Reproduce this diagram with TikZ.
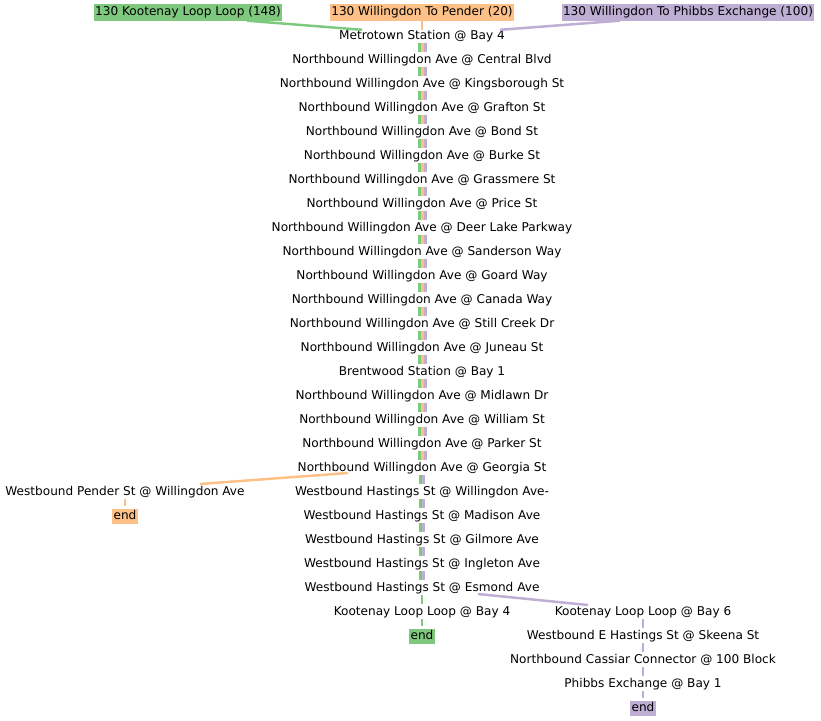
\documentclass[tikz,border=0pt]{standalone}
\usepackage{fontspec}
\setmainfont{DejaVu Sans}
\usetikzlibrary{positioning}
\definecolor{accgreen}{HTML}{7FC97F}
\definecolor{accorange}{HTML}{FDC086}
\definecolor{accpurple}{HTML}{BEAED4}

\begin{document}
\begin{tikzpicture}[x=1pt, y=-1pt, node distance=24pt,
    font=\fontsize{12.1}{14}\selectfont,
    stop/.style={inner sep=0pt, text height=9pt, text depth=3pt},
    route/.style={fill=#1, inner xsep=1.5pt, inner ysep=2.5pt, text height=9pt, text depth=3pt},
    endbox/.style={route=#1, inner ysep=1.5pt},
    feed/.style={draw=#1, line width=2.5pt},
    leg/.style={draw=#1, line width=2.5pt, shorten <=1pt, shorten >=2.3pt}]
    \useasboundingbox (0,0) rectangle (821,720);
    % main trunk
    \node[stop] (metrotown) at (422,36) {Metrotown Station @ Bay 4};
    \node[stop, below of=metrotown] (central) {Northbound Willingdon Ave @ Central Blvd};
    \node[stop, below of=central] (kingsborough) {Northbound Willingdon Ave @ Kingsborough St};
    \node[stop, below of=kingsborough] (grafton) {Northbound Willingdon Ave @ Grafton St};
    \node[stop, below of=grafton] (bond) {Northbound Willingdon Ave @ Bond St};
    \node[stop, below of=bond] (burke) {Northbound Willingdon Ave @ Burke St};
    \node[stop, below of=burke] (grassmere) {Northbound Willingdon Ave @ Grassmere St};
    \node[stop, below of=grassmere] (price) {Northbound Willingdon Ave @ Price St};
    \node[stop, below of=price] (deerlake) {Northbound Willingdon Ave @ Deer Lake Parkway};
    \node[stop, below of=deerlake] (sanderson) {Northbound Willingdon Ave @ Sanderson Way};
    \node[stop, below of=sanderson] (goard) {Northbound Willingdon Ave @ Goard Way};
    \node[stop, below of=goard] (canada) {Northbound Willingdon Ave @ Canada Way};
    \node[stop, below of=canada] (stillcreek) {Northbound Willingdon Ave @ Still Creek Dr};
    \node[stop, below of=stillcreek] (juneau) {Northbound Willingdon Ave @ Juneau St};
    \node[stop, below of=juneau] (brentwood) {Brentwood Station @ Bay 1};
    \node[stop, below of=brentwood] (midlawn) {Northbound Willingdon Ave @ Midlawn Dr};
    \node[stop, below of=midlawn] (william) {Northbound Willingdon Ave @ William St};
    \node[stop, below of=william] (parker) {Northbound Willingdon Ave @ Parker St};
    \node[stop, below of=parker] (georgia) {Northbound Willingdon Ave @ Georgia St};
    \node[stop, below of=georgia] (hastWillingdon) {Westbound Hastings St @ Willingdon Ave-};
    \node[stop, below of=hastWillingdon] (madison) {Westbound Hastings St @ Madison Ave};
    \node[stop, below of=madison] (gilmore) {Westbound Hastings St @ Gilmore Ave};
    \node[stop, below of=gilmore] (ingleton) {Westbound Hastings St @ Ingleton Ave};
    \node[stop, below of=ingleton] (esmond) {Westbound Hastings St @ Esmond Ave};
    \node[stop, below of=esmond] (kootBayFour) {Kootenay Loop Loop @ Bay 4};
    \node[endbox=accgreen, below of=kootBayFour] (greenEnd) {end};
    % branches
    \node[stop, left of=hastWillingdon, node distance=297pt] (pender) {Westbound Pender St @ Willingdon Ave};
    \node[endbox=accorange, below of=pender] (orangeEnd) {end};
    \node[stop, right of=kootBayFour, node distance=221pt] (kootBaySix) {Kootenay Loop Loop @ Bay 6};
    \node[stop, below of=kootBaySix] (skeena) {Westbound E Hastings St @ Skeena St};
    \node[stop, below of=skeena] (cassiar) {Northbound Cassiar Connector @ 100 Block};
    \node[stop, below of=cassiar] (phibbs) {Phibbs Exchange @ Bay 1};
    \node[endbox=accpurple, below of=phibbs] (purpleEnd) {end};
    % routes
    \node[route=accorange, above of=metrotown] (penderHdr) {130 Willingdon To Pender (20)};
    \node[route=accgreen, left of=penderHdr, node distance=234pt] (kootHdr) {130 Kootenay Loop Loop (148)};
    \node[route=accpurple, right of=penderHdr, node distance=266pt] (phibbsHdr) {130 Willingdon To Phibbs Exchange (100)};

    \draw[feed=accgreen] ([xshift=59pt]kootHdr.south) -- ([xshift=-60pt]metrotown.north);
    \draw[feed=accorange] (penderHdr) -- (metrotown);
    \draw[feed=accpurple] ([xshift=-68pt]phibbsHdr.south) -- ([xshift=78pt]metrotown.north);

    \foreach \a/\b in {metrotown/central, central/kingsborough, kingsborough/grafton, grafton/bond,
        bond/burke, burke/grassmere, grassmere/price, price/deerlake, deerlake/sanderson,
        sanderson/goard, goard/canada, canada/stillcreek, stillcreek/juneau, juneau/brentwood,
        brentwood/midlawn, midlawn/william, william/parker, parker/georgia} {
        \draw[leg=accgreen, line width=3pt] ([xshift=-3pt]\a.south) -- ([xshift=-3pt]\b.north);
        \draw[leg=accorange, line width=3pt] (\a.south) -- (\b.north);
        \draw[leg=accpurple, line width=3pt] ([xshift=3pt]\a.south) -- ([xshift=3pt]\b.north);
    }
    \foreach \a/\b in {georgia/hastWillingdon, hastWillingdon/madison, madison/gilmore,
        gilmore/ingleton, ingleton/esmond} {
        \draw[leg=accgreen, line width=3pt] ([xshift=-1.5pt]\a.south) -- ([xshift=-1.5pt]\b.north);
        \draw[leg=accpurple, line width=3pt] ([xshift=1.5pt]\a.south) -- ([xshift=1.5pt]\b.north);
    }
    \draw[leg=accgreen] (esmond.south) -- (kootBayFour.north);
    \draw[leg=accgreen] (kootBayFour.south) -- (greenEnd.north);

    \draw[feed=accorange] ([shift={(-74pt,-5pt)}]georgia.center) -- ([shift={(75pt,8pt)}]pender.center);
    \draw[leg=accorange] (pender.south) -- (orangeEnd.north);

    \draw[feed=accpurple] ([shift={(56pt,-6pt)}]esmond.center) -- ([shift={(-55pt,7pt)}]kootBaySix.center);
    \foreach \a/\b in {kootBaySix/skeena, skeena/cassiar, cassiar/phibbs, phibbs/purpleEnd}
        \draw[leg=accpurple] (\a.south) -- (\b.north);
\end{tikzpicture}
\end{document}
